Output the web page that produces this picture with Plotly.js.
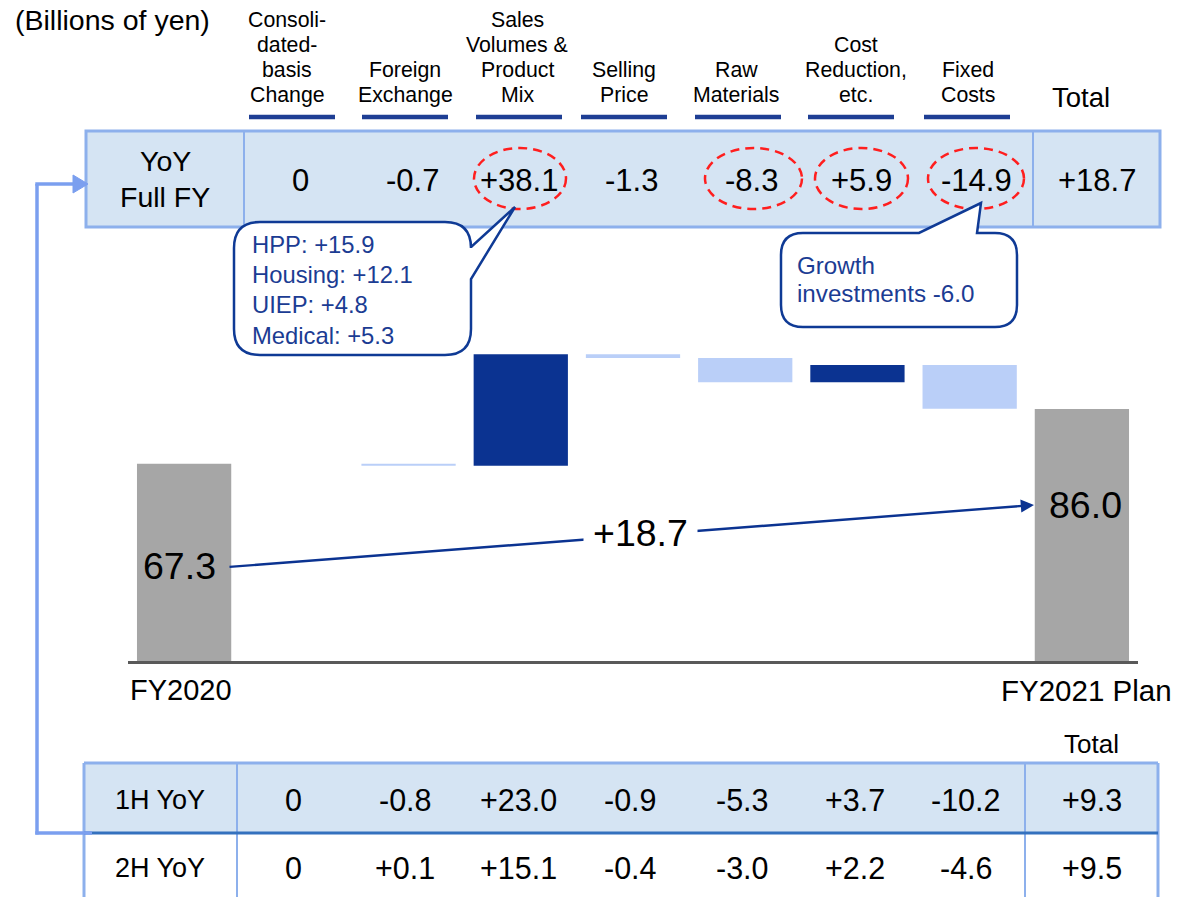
<!DOCTYPE html>
<html>
<head>
<meta charset="utf-8">
<script src="https://cdn.plot.ly/plotly-3.0.1.min.js"></script>
<style>html,body{margin:0;padding:0;background:#fff;}#chart{width:1197px;height:897px;}</style>
</head>
<body>
<div id="chart"></div>
<script>
// ---------------- DATA ----------------
const unitLabel = '(Billions of yen)';
const factorLabels = ['Consoli-<br>dated-<br>basis<br>Change', 'Foreign<br>Exchange', 'Sales<br>Volumes &<br>Product<br>Mix', 'Selling<br>Price', 'Raw<br>Materials', 'Cost<br>Reduction,<br>etc.', 'Fixed<br>Costs'];
const waterfallCats = ['FY2020', 'Consolidated-basis Change', 'Foreign Exchange', 'Sales Volumes & Product Mix', 'Selling Price', 'Raw Materials', 'Cost Reduction, etc.', 'Fixed Costs', 'FY2021 Plan'];
const fy2020 = 67.3;
const fy2021Plan = 86.0;
const fullYearChange = [0, -0.7, 38.1, -1.3, -8.3, 5.9, -14.9];
const fullYearTotal = 18.7;
const firstHalfChange = [0, -0.8, 23.0, -0.9, -5.3, 3.7, -10.2];
const firstHalfTotal = 9.3;
const secondHalfChange = [0, 0.1, 15.1, -0.4, -3.0, 2.2, -4.6];
const secondHalfTotal = 9.5;
const circled = [false, false, true, false, true, true, true];
const calloutSales = ['HPP: +15.9', 'Housing: +12.1', 'UIEP: +4.8', 'Medical: +5.3'];
const calloutFixed = ['Growth', 'investments -6.0'];

// ---------------- LAYOUT HELPERS ----------------
const W = 1197, H = 897;
const FONT = 'Liberation Sans, Arial, sans-serif';
const px = x => x / W;
const py = y => 1 - y / H;
const P = (x, y) => px(x).toFixed(5) + ',' + py(y).toFixed(5);
const fmt = v => v > 0 ? '+' + v.toFixed(1) : (v < 0 ? v.toFixed(1) : '0');

const DARK = '#0B3391';
const LIGHT = '#BACFF8';
const GRAY = '#A6A6A6';
const CELL = '#D5E4F3';
const BORDER = '#8DB0EC';
const TXTBLUE = '#1B3C93';

const shapes = [];
const annotations = [];
function text(x, y, t, size, opts) {
  annotations.push(Object.assign({
    xref: 'paper', yref: 'paper', x: px(x), y: py(y), text: t, showarrow: false,
    xanchor: 'center', yanchor: 'middle',
    font: {family: FONT, size: size, color: '#000'}
  }, opts || {}));
}
function line(x0, y0, x1, y1, color, width, extra) {
  shapes.push(Object.assign({type: 'line', xref: 'paper', yref: 'paper',
    x0: px(x0), y0: py(y0), x1: px(x1), y1: py(y1), line: {color: color, width: width}}, extra || {}));
}
function rect(x0, y0, x1, y1, fill, lc, lw) {
  shapes.push({type: 'rect', xref: 'paper', yref: 'paper', x0: px(x0), y0: py(y0), x1: px(x1), y1: py(y1),
    fillcolor: fill, line: {color: lc, width: lw}});
}

// ---------------- HEADER ----------------
text(112, 20, unitLabel, 28.5);
const headerX = [287, 405, 517, 624, 736, 856, 968];
const underX = [292, 405, 519, 624, 738, 851, 967];
factorLabels.forEach((lab, i) => {
  const lines = lab.split('<br>');
  lines.forEach((ln, k) => {
    const yy = 95 - (lines.length - 1 - k) * 25;
    text(headerX[i], yy, ln, 21.3);
  });
  line(underX[i] - 43, 117, underX[i] + 43, 117, '#1E3E94', 4.5);
});
text(1081, 97, 'Total', 27.5);

// ---------------- TOP TABLE ----------------
rect(86, 131, 1160, 227, CELL, BORDER, 3);
line(244, 131, 244, 227, BORDER, 2);
line(1033, 131, 1033, 227, BORDER, 2);
text(165, 161, 'YoY', 28.5);
text(165, 197, 'Full FY', 28.5);
const topX = [300, 412, 519, 631, 751, 861, 976];
const ellX = [[474, 566], [705, 802], [815, 908], [928, 1024]];
let e = 0;
fullYearChange.forEach((v, i) => {
  text(topX[i], 181, fmt(v), 31);
});
text(1097, 181, fmt(fullYearTotal), 31);
circled.forEach((c, i) => {
  if (c) {
    const ex = ellX[e++];
    shapes.push({type: 'circle', xref: 'paper', yref: 'paper', x0: px(ex[0]), x1: px(ex[1]), y0: py(148), y1: py(209),
      line: {color: '#FF1E1E', width: 2.5, dash: '9px,6px'}, fillcolor: 'rgba(0,0,0,0)'});
  }
});

// ---------------- CALLOUTS ----------------
function bubble(x0, y0, x1, y1, r, tail) {
  let d = 'M' + P(x0 + r, y0);
  if (tail.side === 'top') {
    d += ' L' + P(tail.a, y0) + ' L' + P(tail.tx, tail.ty) + ' L' + P(tail.b, y0);
  }
  d += ' L' + P(x1 - r, y0) + ' Q' + P(x1, y0) + ' ' + P(x1, y0 + r);
  if (tail.side === 'right') {
    d += ' L' + P(x1, tail.a) + ' L' + P(tail.tx, tail.ty) + ' L' + P(x1, tail.b);
  }
  d += ' L' + P(x1, y1 - r) + ' Q' + P(x1, y1) + ' ' + P(x1 - r, y1);
  d += ' L' + P(x0 + r, y1) + ' Q' + P(x0, y1) + ' ' + P(x0, y1 - r);
  d += ' L' + P(x0, y0 + r) + ' Q' + P(x0, y0) + ' ' + P(x0 + r, y0) + ' Z';
  shapes.push({type: 'path', xref: 'paper', yref: 'paper', path: d, fillcolor: '#FFFFFF',
    line: {color: '#0F3A95', width: 2.5}});
}
bubble(234, 222, 471, 355, 26, {side: 'right', a: 247, b: 279, tx: 515, ty: 207});
bubble(781, 233, 1017, 327, 22, {side: 'top', a: 919, b: 977, tx: 981, ty: 203});
calloutSales.forEach((t, k) => text(250, 245 + k * 30, t, 23.8, {xanchor: 'left', font: {family: FONT, size: 23.8, color: TXTBLUE}}));
calloutFixed.forEach((t, k) => text(795, 266 + k * 27.5, t, 24.2, {xanchor: 'left', font: {family: FONT, size: 24.2, color: TXTBLUE}}));

// ---------------- WATERFALL ----------------
const wfValues = [fy2020].concat(fullYearChange, [fy2021Plan]);
const wfMeasure = ['absolute'].concat(fullYearChange.map(() => 'relative'), ['absolute']);
const pxPerUnit = 2.93;
const baseY = 661, topY = 340;

const trace = {
  type: 'waterfall', x: waterfallCats, y: wfValues, measure: wfMeasure,
  width: 0.84,
  connector: {visible: false},
  increasing: {marker: {color: DARK, line: {width: 0}}},
  decreasing: {marker: {color: LIGHT, line: {width: 0}}},
  totals: {marker: {color: GRAY, line: {width: 0}}},
  textinfo: 'none', hoverinfo: 'skip', showlegend: false
};

// value labels and total-change arrow
text(179, 566, fy2020.toFixed(1), 37.5);
text(1085, 505, fy2021Plan.toFixed(1), 37.5);
annotations.push({xref: 'paper', yref: 'paper', x: px(1034), y: py(505), text: '', showarrow: true,
  ax: 228 - 1034, ay: 567 - 505, arrowhead: 2, arrowsize: 1.1, arrowwidth: 2.4, arrowcolor: DARK, standoff: 0});
annotations.push({xref: 'paper', yref: 'paper', x: px(640), y: py(533), text: fmt(fullYearTotal), showarrow: false,
  bgcolor: '#FFFFFF', borderpad: 9, font: {family: FONT, size: 37.5, color: '#000'}});
text(181, 690, waterfallCats[0], 29);
text(1086, 690, waterfallCats[8], 29.5);

// ---------------- BOTTOM TABLE ----------------
text(1091, 744, 'Total', 26);
rect(84, 763, 1158, 833, CELL, 'rgba(0,0,0,0)', 0);
line(84, 763, 1158, 763, BORDER, 3);
line(84, 763, 84, 897, BORDER, 3);
line(1158, 763, 1158, 897, BORDER, 3);
line(237, 763, 237, 897, BORDER, 2);
line(1025, 763, 1025, 897, BORDER, 2);
line(84, 833, 1158, 833, '#3471BE', 3);
text(160, 800, '1H YoY', 27);
text(160, 868, '2H YoY', 27);
const botX = [293, 405, 518, 630, 742, 855, 966];
firstHalfChange.forEach((v, i) => text(botX[i], 800, fmt(v), 30.5));
secondHalfChange.forEach((v, i) => text(botX[i], 868, fmt(v), 30.5));
text(1092, 800, fmt(firstHalfTotal), 30.5);
text(1092, 868, fmt(secondHalfTotal), 30.5);

// ---------------- LEFT CONNECTOR ----------------
const CONN = '#7B9FEF';
line(37, 184, 37, 834.5, CONN, 3.5);
line(35.3, 833, 92, 833, CONN, 3.5);
line(35.3, 184, 76, 184, CONN, 3.5);
shapes.push({type: 'path', xref: 'paper', yref: 'paper', path: 'M' + P(73, 175) + ' L' + P(88, 184) + ' L' + P(73, 193) + ' Z',
  fillcolor: CONN, line: {color: CONN, width: 1}});

const layout = {
  width: W, height: H, margin: {l: 0, r: 0, t: 0, b: 0},
  paper_bgcolor: '#FFFFFF', plot_bgcolor: 'rgba(0,0,0,0)',
  showlegend: false,
  xaxis: {domain: [px(128), px(1138)], range: [-0.5, 8.5], type: 'category', categoryarray: waterfallCats,
    showticklabels: false, ticks: '', showgrid: false, zeroline: false, showline: true, linecolor: '#595959', linewidth: 2.5, fixedrange: true},
  yaxis: {domain: [py(baseY), py(topY)], range: [0, (baseY - topY) / pxPerUnit], visible: false, showgrid: false, zeroline: false, fixedrange: true},
  shapes: shapes, annotations: annotations,
  font: {family: FONT}
};
Plotly.newPlot('chart', [trace], layout, {displayModeBar: false, staticPlot: true});
</script>
</body>
</html>
